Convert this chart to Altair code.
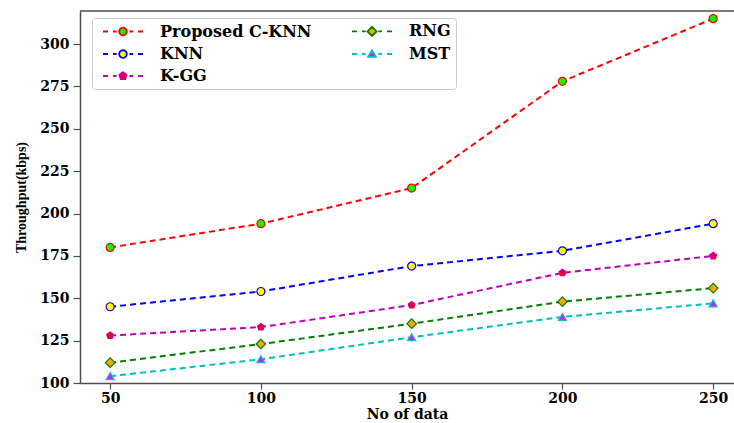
import altair as alt
import pandas as pd
import numpy as np

# ---------------- data ----------------
n_data = [50, 100, 150, 200, 250]
series_names = ["Proposed C-KNN", "KNN", "K-GG", "RNG", "MST"]
proposed_cknn = [180, 194, 215, 278, 315]
knn = [145, 154, 169, 178, 194]
kgg = [128, 133, 146, 165, 175]
rng = [112, 123, 135, 148, 156]
mst = [104, 114, 127, 139, 147]
x_ticks = [50, 100, 150, 200, 250]
y_ticks = [100, 125, 150, 175, 200, 225, 250, 275, 300]
legend_order = ["Proposed C-KNN", "KNN", "K-GG", "RNG", "MST"]

values = {
    "Proposed C-KNN": proposed_cknn,
    "KNN": knn,
    "K-GG": kgg,
    "RNG": rng,
    "MST": mst,
}

# ---------------- styles ----------------
def poly(pts):
    return "M" + "L".join(f"{x:.3f},{y:.3f}" for x, y in pts) + "Z"

def circle_poly(r, n=20):
    return poly([(r * np.cos(2 * np.pi * i / n), r * np.sin(2 * np.pi * i / n)) for i in range(n)])

def pentagon_poly(r):
    return poly([(r * np.sin(2 * np.pi * i / 5), -r * np.cos(2 * np.pi * i / 5)) for i in range(5)])

PENTAGON = pentagon_poly(1.0)
DASHES = "M-5,0L-3.75,0M-2.5,0L-1.6,0M1.6,0L2.5,0M3.75,0L5,0"

styles = {
    "Proposed C-KNN": dict(line="#ff0000", face="#00ff00", shape="circle", size=64,
                           leg=DASHES + circle_poly(0.95)),
    "KNN": dict(line="#0000ff", face="#ffff00", shape="circle", size=64,
                leg=DASHES + circle_poly(0.95)),
    "K-GG": dict(line="#bf00bf", face="#ff0000", shape=PENTAGON, size=52,
                 leg=DASHES + pentagon_poly(0.95)),
    "RNG": dict(line="#008000", face="#ffa500", shape="diamond", size=90,
                leg=DASHES + poly([(0, -1.15), (1.15, 0), (0, 1.15), (-1.15, 0)])),
    "MST": dict(line="#00bfbf", face="#ff00ff", shape="triangle-up", size=64,
                leg=DASHES + poly([(0, -0.95), (0.95, 0.7), (-0.95, 0.7)])),
}

rows = []
for s in series_names:
    for x, y in zip(n_data, values[s]):
        st = styles[s]
        rows.append(dict(n=x, thr=y, series=s, line_color=st["line"],
                         face_color=st["face"], shape=st["shape"], msize=st["size"]))
df = pd.DataFrame(rows)

X_DOMAIN = [40, 256.9]
Y_DOMAIN = [100, 319.5]
SPINE = "#4d4d4d"

x_enc = alt.X("n:Q", scale=alt.Scale(domain=X_DOMAIN, nice=False, zero=False),
              axis=alt.Axis(values=x_ticks, title="No of data", grid=False,
                            labelFont="DejaVu Serif", labelFontSize=14, labelFontWeight="bold",
                            labelColor="black", labelPadding=2, labelFlush=False,
                            titleFont="DejaVu Serif", titleFontSize=14, titleFontWeight="bold",
                            titleColor="black", titlePadding=2,
                            domainColor=SPINE, domainWidth=1.5, tickColor=SPINE,
                            tickWidth=1.2, tickSize=6, format="d"))
y_enc = alt.Y("thr:Q", scale=alt.Scale(domain=Y_DOMAIN, nice=False, zero=False),
              axis=alt.Axis(values=y_ticks, title="Throughput(kbps)", grid=False,
                            labelFont="DejaVu Serif", labelFontSize=14, labelFontWeight="bold",
                            labelColor="black", labelPadding=4, labelFlush=False,
                            titleFont="Liberation Serif", titleFontSize=14, titleFontWeight="bold",
                            titleColor="black", titlePadding=11,
                            domainColor=SPINE, domainWidth=1.5, tickColor=SPINE,
                            tickWidth=1.2, tickSize=7, format="d"))

base = alt.Chart(df)

lines = base.mark_line(strokeDash=[6, 4], strokeWidth=2).encode(
    x=x_enc, y=y_enc,
    stroke=alt.Stroke("line_color:N", scale=None),
    detail="series:N",
)

points = base.mark_point(filled=True, opacity=1, strokeWidth=1.2).encode(
    x=x_enc, y=y_enc,
    fill=alt.Fill("face_color:N", scale=None),
    stroke=alt.Stroke("line_color:N", scale=None),
    shape=alt.Shape("shape:N", scale=None),
    size=alt.Size("msize:Q", scale=None),
)

leg = alt.Legend(orient="none", legendX=12, legendY=7, columns=2, direction="vertical",
                 padding=5, fillColor="white", strokeColor="#cccccc", cornerRadius=3,
                 symbolSize=64, symbolStrokeWidth=1.8, symbolOffset=18, symbolOpacity=1,
                 labelOffset=29, labelFont="DejaVu Serif", labelFontSize=16,
                 labelFontWeight="bold", labelColor="black", labelLimit=300,
                 rowPadding=6, columnPadding=34)

legend_layer = base.transform_filter("false").mark_point(filled=True, opacity=1).encode(
    x=x_enc, y=y_enc,
    fill=alt.Fill("series:N", title=None, legend=leg,
                  scale=alt.Scale(domain=legend_order,
                                  range=[styles[s]["face"] for s in legend_order])),
    stroke=alt.Stroke("series:N", title=None, legend=leg,
                      scale=alt.Scale(domain=legend_order,
                                      range=[styles[s]["line"] for s in legend_order])),
    shape=alt.Shape("series:N", title=None, legend=leg,
                    scale=alt.Scale(domain=legend_order,
                                    range=[styles[s]["leg"] for s in legend_order])),
)

top_spine = alt.Chart(pd.DataFrame({"v": [0]})).mark_rule(color=SPINE, strokeWidth=1.5).encode(
    y=alt.datum(Y_DOMAIN[1])
)

chart = alt.layer(lines, points, legend_layer, top_spine).properties(
    width=654, height=372,
    padding={"left": 80, "top": 11, "right": 0, "bottom": 40},
    autosize="none",
).configure_view(stroke="transparent")

chart.save("out.html", embed_options={"renderer": "svg", "actions": False})
